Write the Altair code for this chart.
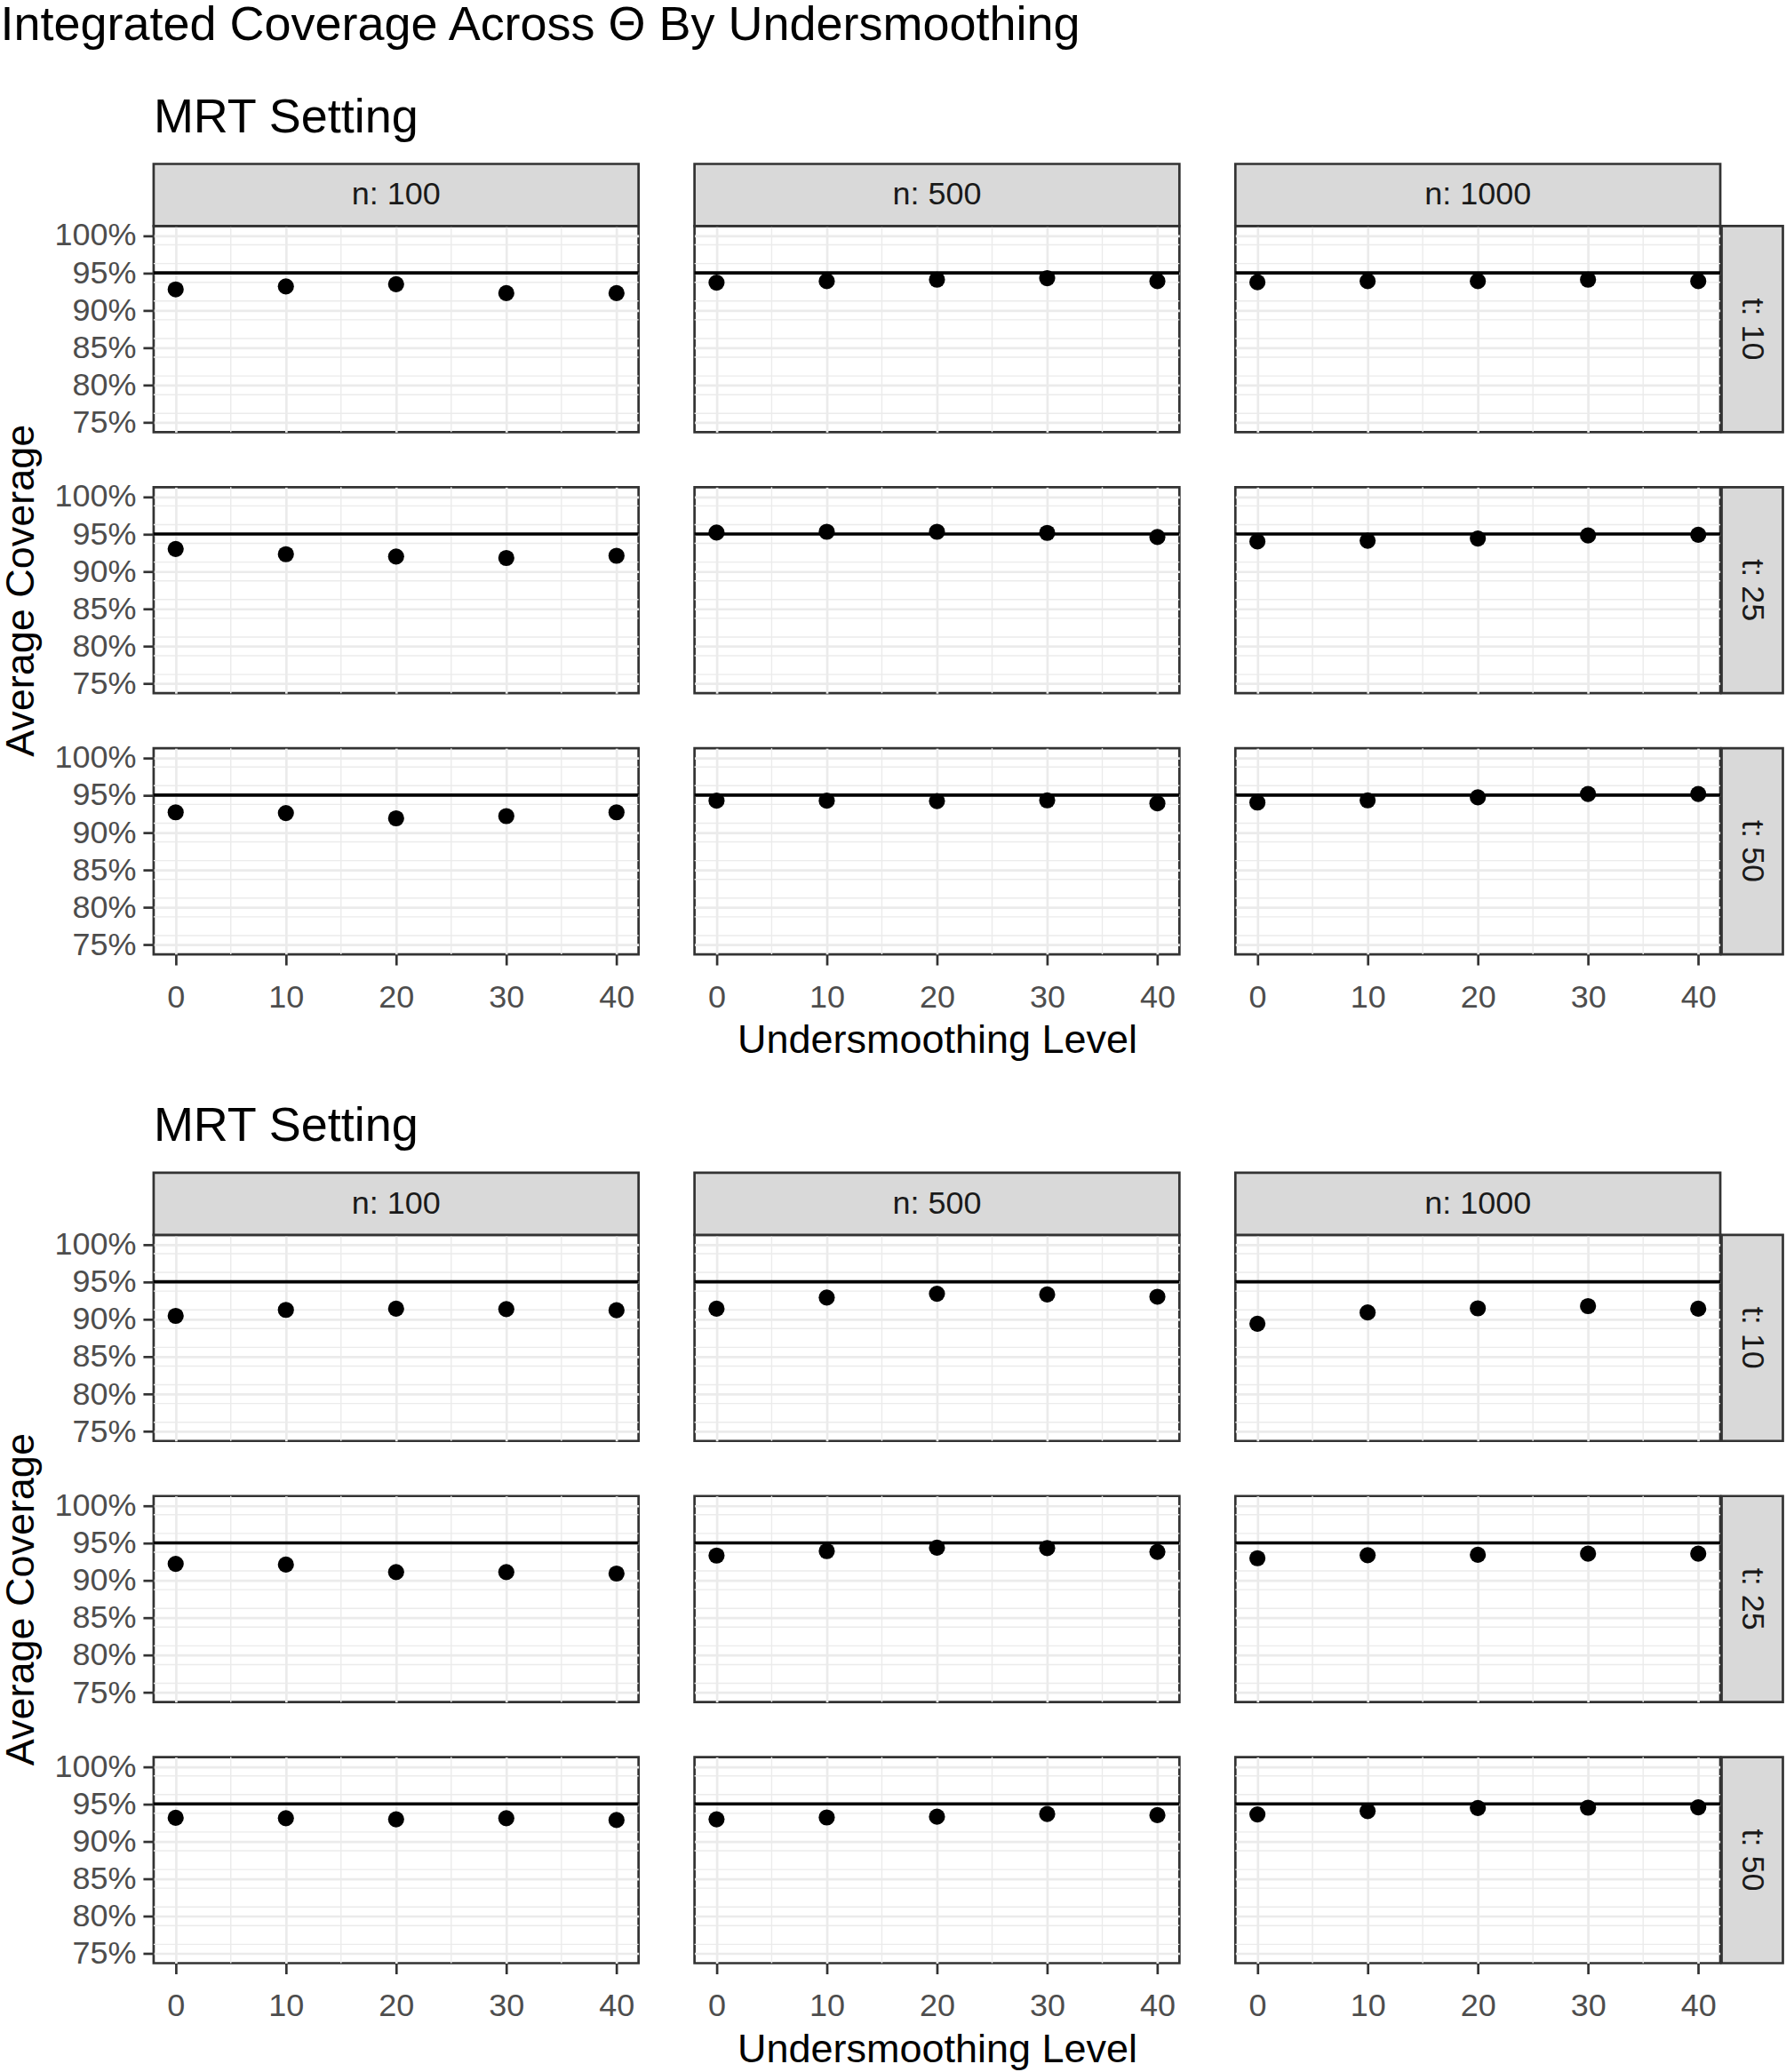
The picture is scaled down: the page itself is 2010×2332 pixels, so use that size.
import altair as alt
import pandas as pd

FONT = "Liberation Sans"

main_title = "Integrated Coverage Across \u0398 By Undersmoothing"
block_titles = ["MRT Setting", "MRT Setting"]
x_title = "Undersmoothing Level"
y_title = "Average Coverage"

n_levels = [100, 500, 1000]
t_levels = [10, 25, 50]
us_levels = [0, 10, 20, 30, 40]
target = 0.95

y_breaks = [0.75, 0.80, 0.85, 0.90, 0.95, 1.00]
y_minor = [0.7625, 0.7875, 0.8125, 0.8375, 0.8625, 0.8875, 0.9125, 0.9375, 0.9625, 0.9875]
x_breaks = [0, 10, 20, 30, 40]
x_minor = [5, 15, 25, 35]
y_domain = [0.7375, 1.0125]
x_domain = [-2, 42]

# Block 1 (top) average coverage in %, one value per undersmoothing level
b1_t10_n100 = [92.8, 93.2, 93.5, 92.3, 92.3]
b1_t10_n500 = [93.7, 93.9, 94.1, 94.3, 93.9]
b1_t10_n1000 = [93.75, 93.9, 93.9, 94.1, 93.9]
b1_t25_n100 = [93.0, 92.3, 92.0, 91.8, 92.1]
b1_t25_n500 = [95.2, 95.3, 95.3, 95.15, 94.6]
b1_t25_n1000 = [94.0, 94.1, 94.4, 94.8, 94.9]
b1_t50_n100 = [92.7, 92.6, 91.9, 92.2, 92.7]
b1_t50_n500 = [94.25, 94.25, 94.2, 94.3, 93.9]
b1_t50_n1000 = [94.0, 94.3, 94.7, 95.15, 95.15]

# Block 2 (bottom)
b2_t10_n100 = [90.45, 91.25, 91.4, 91.35, 91.2]
b2_t10_n500 = [91.4, 92.9, 93.4, 93.3, 93.0]
b2_t10_n1000 = [89.4, 90.9, 91.45, 91.75, 91.4]
b2_t25_n100 = [92.2, 92.1, 91.1, 91.1, 90.9]
b2_t25_n500 = [93.3, 93.9, 94.35, 94.3, 93.8]
b2_t25_n1000 = [92.95, 93.35, 93.4, 93.55, 93.55]
b2_t50_n100 = [93.15, 93.1, 92.95, 93.1, 92.85]
b2_t50_n500 = [92.95, 93.2, 93.3, 93.65, 93.5]
b2_t50_n1000 = [93.6, 94.05, 94.45, 94.5, 94.55]

blocks = [
    {
        (10, 100): b1_t10_n100, (10, 500): b1_t10_n500, (10, 1000): b1_t10_n1000,
        (25, 100): b1_t25_n100, (25, 500): b1_t25_n500, (25, 1000): b1_t25_n1000,
        (50, 100): b1_t50_n100, (50, 500): b1_t50_n500, (50, 1000): b1_t50_n1000,
    },
    {
        (10, 100): b2_t10_n100, (10, 500): b2_t10_n500, (10, 1000): b2_t10_n1000,
        (25, 100): b2_t25_n100, (25, 500): b2_t25_n500, (25, 1000): b2_t25_n1000,
        (50, 100): b2_t50_n100, (50, 500): b2_t50_n500, (50, 1000): b2_t50_n1000,
    },
]

PW, PH = 546, 232
SH, SW = 70, 69
GRID = "#EBEBEB"
BORDER = "#333333"
STRIP_FILL = "#D9D9D9"


def make_panel(vals, t, n, ri, ci):
    sub = pd.DataFrame({"us": us_levels, "cov": [v / 100 for v in vals]})
    ys = alt.Scale(domain=y_domain, nice=False, zero=False)
    xs = alt.Scale(domain=x_domain, nice=False, zero=False)
    left = ci == 0
    bottom = ri == 2
    yaxis = alt.Axis(values=y_breaks, format=".0%", labels=left, ticks=left, domain=False,
                     title=y_title if (left and ri == 1) else None, grid=True)
    xaxis = alt.Axis(values=x_breaks, format="d", labels=bottom, ticks=bottom, domain=False,
                     title=x_title if (bottom and ci == 1) else None, grid=True)

    pts = alt.Chart(sub).mark_circle(size=330, color="black", opacity=1).encode(
        x=alt.X("us:Q", scale=xs, axis=xaxis),
        y=alt.Y("cov:Q", scale=ys, axis=yaxis))
    mny = alt.Chart(pd.DataFrame({"cov": y_minor})).mark_rule(color=GRID, strokeWidth=1.4).encode(
        y=alt.Y("cov:Q", scale=ys, axis=yaxis))
    mnx = alt.Chart(pd.DataFrame({"us": x_minor})).mark_rule(color=GRID, strokeWidth=1.4).encode(
        x=alt.X("us:Q", scale=xs, axis=xaxis))
    tgt = alt.Chart(pd.DataFrame({"cov": [target]})).mark_rule(color="black", strokeWidth=3.6).encode(
        y=alt.Y("cov:Q", scale=ys, axis=yaxis))
    layers = [mny, mnx, pts, tgt]

    if ri == 0:
        sdf = pd.DataFrame({"label": [f"n: {n}"]})
        layers.append(alt.Chart(sdf).mark_rect(fill=STRIP_FILL, stroke=BORDER, strokeWidth=2.7).encode(
            x=alt.value(0), x2=alt.value(PW), y=alt.value(-SH), y2=alt.value(0)))
        layers.append(alt.Chart(sdf).mark_text(font=FONT, fontSize=36, color="#1A1A1A").encode(
            x=alt.value(PW / 2), y=alt.value(-SH / 2), text="label:N"))
    if ci == 2:
        sdf = pd.DataFrame({"label": [f"t: {t}"]})
        layers.append(alt.Chart(sdf).mark_rect(fill=STRIP_FILL, stroke=BORDER, strokeWidth=2.7).encode(
            x=alt.value(PW + 1.5), x2=alt.value(PW + 1.5 + SW), y=alt.value(0), y2=alt.value(PH)))
        layers.append(alt.Chart(sdf).mark_text(font=FONT, fontSize=36, color="#1A1A1A", angle=90).encode(
            x=alt.value(PW + 1.5 + SW / 2), y=alt.value(PH / 2), text="label:N"))
    return alt.layer(*layers).properties(width=PW, height=PH)


def make_block(vals, title):
    cells = []
    for ri, t in enumerate(t_levels):
        for ci, n in enumerate(n_levels):
            cells.append(make_panel(vals[(t, n)], t, n, ri, ci))
    return alt.concat(
        *cells, columns=3, spacing={"row": 62, "column": 63}, bounds="flush",
        title=alt.TitleParams(title, anchor="start", frame="group", fontSize=54, font=FONT,
                              fontWeight="normal", color="black", offset=22),
    )


blockA = make_block(blocks[0], block_titles[0])
blockB = make_block(blocks[1], block_titles[1])

chart = alt.vconcat(blockA, blockB, spacing=45).properties(
    title=alt.TitleParams(main_title, anchor="start", frame="bounds", fontSize=54, font=FONT,
                          fontWeight="normal", color="black", offset=50),
    padding={"top": 1, "left": 0, "right": 0, "bottom": 0},
).configure_view(
    stroke=BORDER, strokeWidth=2.7
).configure_axis(
    labelFont=FONT, labelFontSize=36, labelColor="#4D4D4D", labelFlush=False,
    titleFont=FONT, titleFontSize=45, titleColor="black", titleFontWeight="normal",
    tickColor=BORDER, tickWidth=2.7, tickSize=12,
    gridColor=GRID, gridWidth=2.7, domain=False, minExtent=0,
).configure_axisX(
    labelPadding=19, titlePadding=9
).configure_axisY(
    labelPadding=8, titlePadding=14
)

chart.save("out.html", embed_options={"renderer": "svg", "actions": False})
